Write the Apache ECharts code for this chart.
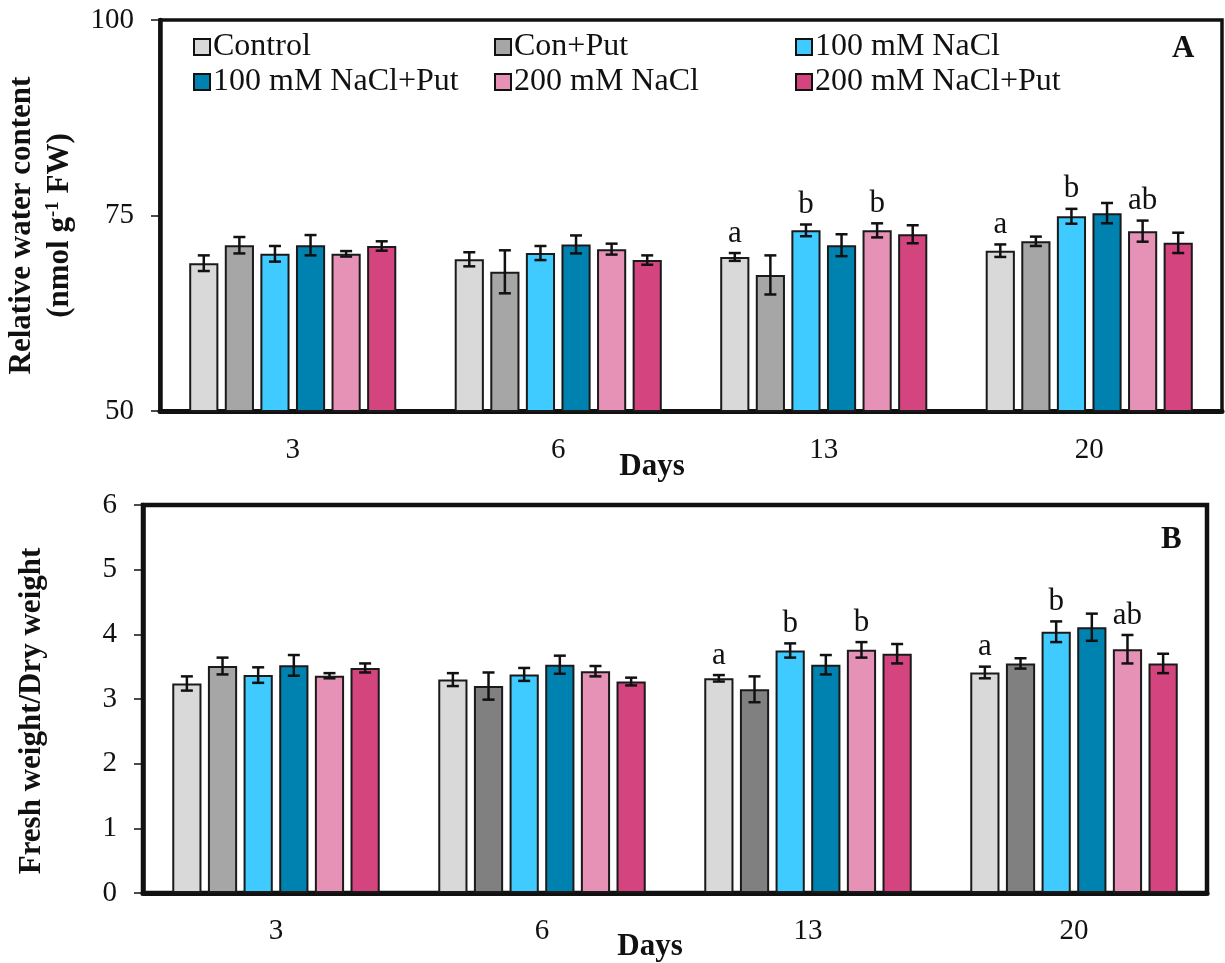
<!DOCTYPE html>
<html>
<head>
<meta charset="utf-8">
<script src="https://cdn.jsdelivr.net/npm/echarts@6/dist/echarts.min.js"></script>
<style>
html,body{margin:0;padding:0;background:#fff;}
#chart{width:1225px;height:963px;}
</style>
</head>
<body>
<div id="chart"></div>
<script>
// ---------- data ----------
const days = ['3', '6', '13', '20'];
const treatments = ['Control', 'Con+Put', '100 mM NaCl', '100 mM NaCl+Put', '200 mM NaCl', '200 mM NaCl+Put'];

// Panel A: relative water content (mean, per day)
const rwcControl     = [68.9, 69.4, 69.7, 70.5];
const rwcConPut      = [71.2, 67.8, 67.4, 71.7];
const rwcNaCl100     = [70.1, 70.2, 73.1, 74.9];
const rwcNaCl100Put  = [71.2, 71.3, 71.2, 75.3];
const rwcNaCl200     = [70.1, 70.7, 73.1, 73.0];
const rwcNaCl200Put  = [71.1, 69.3, 72.6, 71.5];
// Panel A error bars
const rwcErrControl    = [1.0, 0.9, 0.5, 0.8];
const rwcErrConPut     = [1.05, 2.75, 2.5, 0.6];
const rwcErrNaCl100    = [1.0, 0.9, 0.75, 0.95];
const rwcErrNaCl100Put = [1.3, 1.15, 1.4, 1.3];
const rwcErrNaCl200    = [0.35, 0.7, 0.9, 1.35];
const rwcErrNaCl200Put = [0.6, 0.6, 1.15, 1.3];

// Panel B: fresh weight / dry weight
const fdControl     = [3.24, 3.30, 3.32, 3.41];
const fdConPut      = [3.51, 3.20, 3.15, 3.55];
const fdNaCl100     = [3.37, 3.38, 3.75, 4.04];
const fdNaCl100Put  = [3.52, 3.53, 3.53, 4.11];
const fdNaCl200     = [3.36, 3.43, 3.76, 3.77];
const fdNaCl200Put  = [3.48, 3.27, 3.70, 3.55];
// Panel B error bars
const fdErrControl    = [0.11, 0.10, 0.05, 0.09];
const fdErrConPut     = [0.13, 0.21, 0.20, 0.08];
const fdErrNaCl100    = [0.12, 0.10, 0.11, 0.16];
const fdErrNaCl100Put = [0.16, 0.14, 0.15, 0.21];
const fdErrNaCl200    = [0.04, 0.08, 0.12, 0.22];
const fdErrNaCl200Put = [0.07, 0.06, 0.15, 0.15];

// significance letters [day][treatment]
const lettersByDay = [
  ['', '', '', '', '', ''],
  ['', '', '', '', '', ''],
  ['a', '', 'b', '', 'b', ''],
  ['a', '', 'b', '', 'ab', '']
];

// axis ticks
const yTicksA = [50, 75, 100];
const yTicksB = [0, 1, 2, 3, 4, 5, 6];

// ---------- styles ----------
const colors = ['#d9d9d9', '#a6a6a6', '#3fcbff', '#0082b0', '#e692b7', '#d4457f'];
const conPutColorsB = ['#a6a6a6', '#808080', '#808080', '#808080'];
const FONT = 'Liberation Serif';
const INK = '#111';

const rwcSeries = [rwcControl, rwcConPut, rwcNaCl100, rwcNaCl100Put, rwcNaCl200, rwcNaCl200Put];
const rwcErrs = [rwcErrControl, rwcErrConPut, rwcErrNaCl100, rwcErrNaCl100Put, rwcErrNaCl200, rwcErrNaCl200Put];
const fdSeries = [fdControl, fdConPut, fdNaCl100, fdNaCl100Put, fdNaCl200, fdNaCl200Put];
const fdErrs = [fdErrControl, fdErrConPut, fdErrNaCl100, fdErrNaCl100Put, fdErrNaCl200, fdErrNaCl200Put];

const CAT_GAP = 0.22, BAR_GAP = 0.22, N = treatments.length;

function errData(vals, errs) {
  const out = [];
  vals.forEach((arr, s) => arr.forEach((v, d) => out.push([d, s, v, errs[s][d]])));
  return out;
}

function errRender(params, api) {
  const d = api.value(0), s = api.value(1), v = api.value(2), e = api.value(3);
  const band = api.size([1, 0])[0];
  const bw = band * (1 - CAT_GAP) / (N + (N - 1) * BAR_GAP);
  const off = (s - (N - 1) / 2) * bw * (1 + BAR_GAP);
  const top = api.coord([d, v + e]);
  const bot = api.coord([d, v - e]);
  const x = top[0] + off;
  const cap = 6;
  const ls = {stroke: INK, lineWidth: 2.5};
  const children = [
    {type: 'line', shape: {x1: x, y1: top[1], x2: x, y2: bot[1]}, style: ls},
    {type: 'line', shape: {x1: x - cap, y1: top[1], x2: x + cap, y2: top[1]}, style: ls},
    {type: 'line', shape: {x1: x - cap, y1: bot[1], x2: x + cap, y2: bot[1]}, style: ls}
  ];
  const letter = lettersByDay[d][s];
  if (letter) {
    children.push({
      type: 'text',
      style: {
        text: letter, x: x, y: top[1] - 4,
        fill: INK, font: '31px "' + FONT + '"',
        align: 'center', verticalAlign: 'bottom',
        textAlign: 'center', textVerticalAlign: 'bottom'
      }
    });
  }
  return {type: 'group', children: children};
}

const series = [];
treatments.forEach((name, s) => {
  series.push({
    name: name, type: 'bar', xAxisIndex: 0, yAxisIndex: 0,
    data: rwcSeries[s],
    barCategoryGap: '22%', barGap: '22%',
    itemStyle: {color: colors[s], borderColor: '#1a1a1a', borderWidth: 2},
    emphasis: {disabled: true}, silent: true
  });
});
treatments.forEach((name, s) => {
  series.push({
    name: name, type: 'bar', xAxisIndex: 1, yAxisIndex: 1,
    data: fdSeries[s].map((v, d) => s === 1 ? {value: v, itemStyle: {color: conPutColorsB[d]}} : v),
    barCategoryGap: '22%', barGap: '22%',
    itemStyle: {color: colors[s], borderColor: '#1a1a1a', borderWidth: 2},
    emphasis: {disabled: true}, silent: true
  });
});
series.push({
  type: 'custom', xAxisIndex: 0, yAxisIndex: 0, z: 10, silent: true,
  data: errData(rwcSeries, rwcErrs), renderItem: errRender, encode: {x: 0, y: 2}
});
series.push({
  type: 'custom', xAxisIndex: 1, yAxisIndex: 1, z: 10, silent: true,
  data: errData(fdSeries, fdErrs), renderItem: errRender, encode: {x: 0, y: 2}
});

const legendPos = [[193, 31], [494, 31], [795, 31], [193, 66], [494, 66], [795, 66]];
const legends = treatments.map((name, i) => ({
  data: [name], left: legendPos[i][0], top: legendPos[i][1], padding: 0,
  orient: 'horizontal', selectedMode: false,
  icon: 'rect', itemWidth: 16, itemHeight: 16, itemGap: 0,
  itemStyle: {borderColor: INK, borderWidth: 2},
  textStyle: {fontFamily: FONT, fontSize: 32, color: INK, padding: [0, 0, 0, -2]}
}));

const axisLabelStyle = {fontFamily: FONT, fontSize: 29, color: INK};

const option = {
  animation: false,
  backgroundColor: '#fff',
  legend: legends,
  grid: [
    {left: 160, top: 20, width: 1062, height: 391, show: true, borderColor: INK, borderWidth: 3.5,
     backgroundColor: 'transparent', containLabel: false, outerBoundsMode: 'none'},
    {left: 143, top: 505, width: 1064, height: 388, show: true, borderColor: INK, borderWidth: 4.5,
     backgroundColor: 'transparent', containLabel: false, outerBoundsMode: 'none'}
  ],
  xAxis: [
    {
      type: 'category', gridIndex: 0, data: days,
      axisLine: {lineStyle: {color: INK, width: 5}},
      axisTick: {show: false},
      axisLabel: Object.assign({margin: 25}, axisLabelStyle),
      name: 'Days', nameLocation: 'middle', nameGap: 40, nameMoveOverlap: false,
      nameTextStyle: {fontFamily: FONT, fontSize: 31, fontWeight: 'bold', color: INK, padding: [0, 78, 0, 0]}
    },
    {
      type: 'category', gridIndex: 1, data: days,
      axisLine: {lineStyle: {color: INK, width: 5}},
      axisTick: {show: false},
      axisLabel: Object.assign({margin: 24}, axisLabelStyle),
      name: 'Days', nameLocation: 'middle', nameGap: 38, nameMoveOverlap: false,
      nameTextStyle: {fontFamily: FONT, fontSize: 31, fontWeight: 'bold', color: INK, padding: [0, 50, 0, 0]}
    }
  ],
  yAxis: [
    {
      type: 'value', gridIndex: 0, min: yTicksA[0], max: yTicksA[yTicksA.length - 1], interval: 25,
      axisLine: {show: true, lineStyle: {color: INK, width: 4.5}},
      axisTick: {show: true, length: 9, lineStyle: {color: INK, width: 1.5}},
      splitLine: {show: false},
      axisLabel: Object.assign({margin: 26}, axisLabelStyle),
      name: '{t|Relative water content}\n{t|(nmol g}{sup|-1}{t| FW)}',
      nameLocation: 'middle', nameRotate: 90, nameGap: 81,
      nameTextStyle: {
        fontFamily: FONT, fontWeight: 'bold', color: INK, fontSize: 31, lineHeight: 38,
        padding: [0, 20, 0, 0],
        rich: {
          t: {fontFamily: FONT, fontWeight: 'bold', color: INK, fontSize: 31, lineHeight: 38},
          sup: {fontFamily: FONT, fontWeight: 'bold', color: INK, fontSize: 19, lineHeight: 38, padding: [0, 0, 14, 0]}
        }
      }
    },
    {
      type: 'value', gridIndex: 1, min: yTicksB[0], max: yTicksB[yTicksB.length - 1], interval: 1,
      axisLine: {show: true, lineStyle: {color: INK, width: 4.5}},
      axisTick: {show: true, length: 9, lineStyle: {color: INK, width: 1.5}},
      splitLine: {show: false},
      axisLabel: Object.assign({margin: 26}, axisLabelStyle),
      name: 'Fresh weight/Dry weight',
      nameLocation: 'middle', nameRotate: 90, nameGap: 96,
      nameTextStyle: {fontFamily: FONT, fontWeight: 'bold', color: INK, fontSize: 31, padding: [0, 24, 0, 0]}
    }
  ],
  graphic: [
    {type: 'text', left: 1172, top: 33, style: {text: 'A', font: 'bold 31px "' + FONT + '"', fill: INK}},
    {type: 'text', left: 1161, top: 524, style: {text: 'B', font: 'bold 31px "' + FONT + '"', fill: INK}}
  ],
  series: series
};

const chart = echarts.init(document.getElementById('chart'), null, {renderer: 'canvas'});
chart.setOption(option);
</script>
</body>
</html>
